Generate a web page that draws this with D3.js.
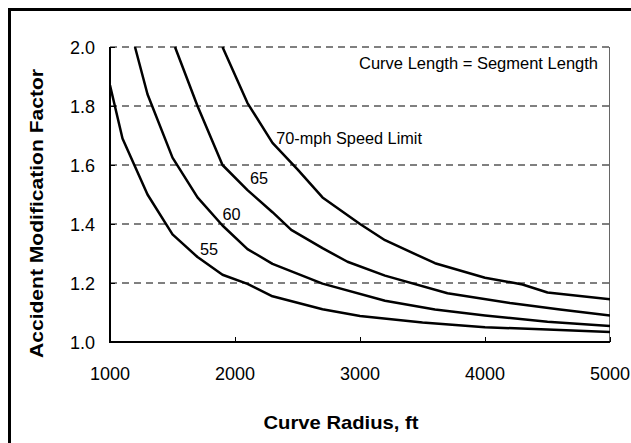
<!DOCTYPE html>
<html>
<head>
<meta charset="utf-8">
<script src="https://cdn.jsdelivr.net/npm/d3@7"></script>
<style>
  html, body { margin: 0; padding: 0; background: #fff; overflow: hidden; }
  svg { display: block; overflow: hidden; font-family: Arial, "Liberation Sans", sans-serif; }
</style>
</head>
<body>
<svg id="chart"></svg>
<script>
// values (radius in ft, AMF)
const xTicks = [1000, 2000, 3000, 4000, 5000];
const yTicks = [1.0, 1.2, 1.4, 1.6, 1.8, 2.0];
const gridTicks = [1.2, 1.4, 1.6, 1.8, 2.0];

const radius55 = [1000, 1100, 1300, 1500, 1700, 1900, 2100, 2300, 2700, 3000, 3500, 4000, 4500, 5000];
const amf55 = [1.87, 1.69, 1.50, 1.365, 1.288, 1.228, 1.197, 1.155, 1.111, 1.088, 1.066, 1.05, 1.042, 1.034];

const radius60 = [1200, 1300, 1500, 1700, 1900, 2100, 2300, 2700, 3200, 3600, 4000, 4500, 5000];
const amf60 = [2.0, 1.84, 1.625, 1.49, 1.395, 1.315, 1.265, 1.198, 1.14, 1.11, 1.09, 1.069, 1.054];

const radius65 = [1520, 1700, 1900, 2100, 2300, 2450, 2700, 2900, 3200, 3700, 4200, 4600, 5000];
const amf65 = [2.0, 1.80, 1.60, 1.515, 1.44, 1.38, 1.318, 1.272, 1.225, 1.165, 1.132, 1.11, 1.09];

const radius70 = [1900, 2100, 2300, 2500, 2700, 3000, 3200, 3600, 4000, 4300, 4500, 5000];
const amf70 = [2.0, 1.81, 1.675, 1.585, 1.49, 1.40, 1.345, 1.267, 1.218, 1.195, 1.168, 1.145];

const series = [
  { radius: radius55, amf: amf55 },
  { radius: radius60, amf: amf60 },
  { radius: radius65, amf: amf65 },
  { radius: radius70, amf: amf70 },
];

// curve labels, anchored in data units
const curveLabels = [
  { text: '55', r: 1720, amf: 1.295 },
  { text: '60', r: 1900, amf: 1.415 },
  { text: '65', r: 2120, amf: 1.535 },
  { text: '70-mph Speed Limit', r: 2330, amf: 1.671 },
];
const noteText = 'Curve Length = Segment Length';

const width = 631;
const height = 443;
const margin = { top: 47, right: 21, bottom: 101, left: 110 };

const svg = d3.select('#chart').attr('width', width).attr('height', height);

// outer frame, only its left and top edges fall inside the picture
svg.append('path')
  .attr('d', `M9.5,${height + 5}V9.5H${width + 5}`)
  .attr('fill', 'none')
  .attr('stroke', '#000')
  .attr('stroke-width', 3);

const x = d3.scaleLinear()
  .domain([1000, 5000])
  .range([margin.left, width - margin.right]);

const y = d3.scaleLinear()
  .domain([1.0, 2.0])
  .range([height - margin.bottom, margin.top]);

// dashed gridlines
svg.append('g')
  .selectAll('line')
  .data(gridTicks)
  .enter()
  .append('line')
  .attr('x1', x(1000))
  .attr('x2', x(5000))
  .attr('y1', (d) => y(d))
  .attr('y2', (d) => y(d))
  .attr('stroke', '#000')
  .attr('stroke-width', 1)
  .attr('stroke-dasharray', '7,5');

// right edge of plot area
svg.append('line')
  .attr('x1', x(5000) - 0.5).attr('x2', x(5000) - 0.5)
  .attr('y1', y(2.0)).attr('y2', y(1.0))
  .attr('stroke', '#666')
  .attr('stroke-width', 1);

// axes
const xAxis = svg.append('g')
  .attr('transform', `translate(0, ${y(1.0)})`)
  .call(d3.axisTop(x).tickValues(xTicks).tickSize(5).tickFormat(''));

const yAxis = svg.append('g')
  .attr('transform', `translate(${x(1000)}, 0)`)
  .call(d3.axisRight(y).tickValues(yTicks).tickSize(5).tickFormat(''));

[xAxis, yAxis].forEach((g) => {
  g.select('.domain').attr('stroke', '#000').attr('stroke-width', 2);
  g.selectAll('.tick line').attr('stroke', '#000').attr('stroke-width', 1);
});
yAxis.select('.domain').attr('d', `M0,${y(2.0)}V${y(1.0)}`);
xAxis.select('.domain').attr('d', `M${x(1000) - 1},0H${x(5000)}`);

// tick labels
svg.append('g')
  .selectAll('text')
  .data(xTicks)
  .enter()
  .append('text')
  .attr('x', (d) => x(d))
  .attr('y', y(1.0) + 38)
  .attr('text-anchor', 'middle')
  .attr('font-size', 18)
  .attr('fill', '#000')
  .text((d) => d);

svg.append('g')
  .selectAll('text')
  .data(yTicks)
  .enter()
  .append('text')
  .attr('x', x(1000) - 15)
  .attr('y', (d) => y(d) + 6.5)
  .attr('text-anchor', 'end')
  .attr('font-size', 18)
  .attr('fill', '#000')
  .text((d) => d.toFixed(1));

// curves
svg.append('clipPath').attr('id', 'plot-clip')
  .append('rect')
  .attr('x', x(1000)).attr('y', y(2.0) - 2)
  .attr('width', x(5000) - x(1000)).attr('height', y(1.0) - y(2.0) + 2);

const line = d3.line()
  .x((d) => x(d[0]))
  .y((d) => y(d[1]));

svg.append('g')
  .attr('clip-path', 'url(#plot-clip)')
  .selectAll('path')
  .data(series)
  .enter()
  .append('path')
  .attr('d', (s) => line(s.radius.map((r, i) => [r, s.amf[i]])))
  .attr('fill', 'none')
  .attr('stroke', '#000')
  .attr('stroke-width', 2.5)
  .attr('stroke-linejoin', 'round');

// labels on curves
svg.append('g')
  .selectAll('text')
  .data(curveLabels)
  .enter()
  .append('text')
  .attr('x', (d) => x(d.r))
  .attr('y', (d) => y(d.amf))
  .attr('font-size', 16.3)
  .attr('fill', '#000')
  .text((d) => d.text);

svg.append('text')
  .attr('x', x(5000) - 12)
  .attr('y', y(2.0) + 22)
  .attr('text-anchor', 'end')
  .attr('font-size', 16.5)
  .attr('fill', '#000')
  .text(noteText);

// axis titles
svg.append('text')
  .attr('x', 341)
  .attr('y', 429)
  .attr('text-anchor', 'middle')
  .attr('font-size', 18.5)
  .attr('font-weight', 'bold')
  .attr('textLength', 155)
  .attr('lengthAdjust', 'spacingAndGlyphs')
  .text('Curve Radius, ft');

svg.append('text')
  .attr('transform', 'translate(42.5, 213.5) rotate(-90)')
  .attr('text-anchor', 'middle')
  .attr('font-size', 18.5)
  .attr('font-weight', 'bold')
  .attr('textLength', 289)
  .attr('lengthAdjust', 'spacingAndGlyphs')
  .text('Accident Modification Factor');
</script>
</body>
</html>
